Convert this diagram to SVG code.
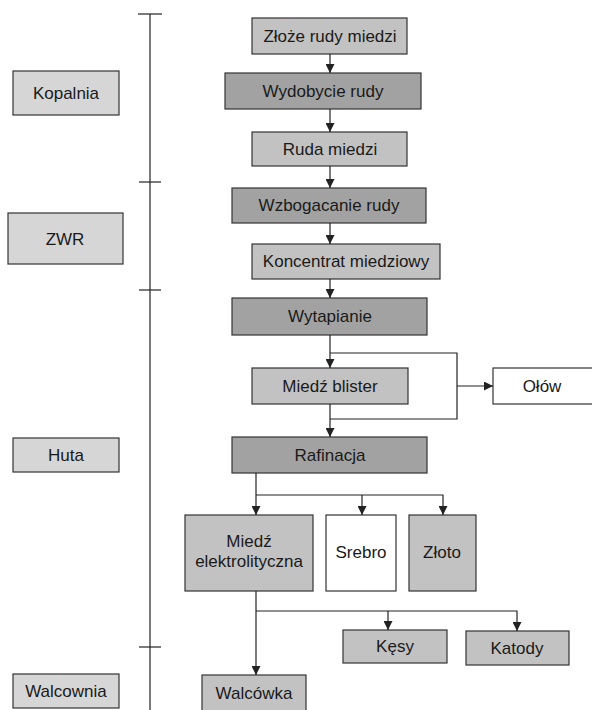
<svg xmlns="http://www.w3.org/2000/svg" width="592" height="710" viewBox="0 0 592 710">
<style>
text{font-family:"Liberation Sans",Arial,sans-serif;font-size:17px;fill:#1a1a1a;text-anchor:middle}
.b{stroke:#333;stroke-width:1.2}
.side{fill:#d6d6d6}
.mid{fill:#c2c2c2}
.dark{fill:#a2a2a2}
.white{fill:#fff}
.c{fill:none;stroke:#222;stroke-width:1.2}
</style>
<defs>
<marker id="ah" viewBox="0 0 10 10" refX="10" refY="5" markerWidth="9" markerHeight="9" markerUnits="userSpaceOnUse" orient="auto"><path d="M0,0 L10,5 L0,10 z" fill="#222"/></marker>
</defs>
<rect width="592" height="710" fill="#fff"/>
<g id="timeline" class="c">
<line x1="150" y1="14" x2="150" y2="710"/>
<line x1="138" y1="14" x2="162" y2="14"/>
<line x1="139" y1="182" x2="161" y2="182"/>
<line x1="139" y1="290" x2="161" y2="290"/>
<line x1="139" y1="647" x2="161" y2="647"/>
</g>
<g id="kopalnia"><rect class="b side" x="13" y="71" width="106" height="44"/><text x="66" y="99">Kopalnia</text></g>
<g id="zwr"><rect class="b side" x="8" y="213" width="115" height="51"/><text x="65" y="245">ZWR</text></g>
<g id="huta"><rect class="b side" x="13" y="438" width="106" height="34"/><text x="66" y="461">Huta</text></g>
<g id="walcownia"><rect class="b side" x="13" y="674" width="106" height="34"/><text x="66" y="697">Walcownia</text></g>
<g id="zloze"><rect class="b mid" x="252" y="18" width="155" height="36"/><text x="330" y="42">Złoże rudy miedzi</text></g>
<g id="wydobycie"><rect class="b dark" x="225" y="73" width="196" height="36"/><text x="323" y="97">Wydobycie rudy</text></g>
<g id="ruda"><rect class="b mid" x="252" y="132" width="155" height="34"/><text x="330" y="155">Ruda miedzi</text></g>
<g id="wzbogacanie"><rect class="b dark" x="232" y="188" width="194" height="35"/><text x="329" y="211">Wzbogacanie rudy</text></g>
<g id="koncentrat"><rect class="b mid" x="252" y="244" width="188" height="35"/><text x="346" y="267">Koncentrat miedziowy</text></g>
<g id="wytapianie"><rect class="b dark" x="232" y="298" width="195" height="37"/><text x="330" y="322">Wytapianie</text></g>
<g id="blister"><rect class="b mid" x="252" y="368" width="156" height="36"/><text x="330" y="392">Miedź blister</text></g>
<g id="olow"><rect class="b white" x="493" y="368" width="102" height="36"/><text x="542" y="392">Ołów</text></g>
<g id="rafinacja"><rect class="b dark" x="232" y="437" width="195" height="36"/><text x="330" y="461">Rafinacja</text></g>
<g id="elektrolityczna"><rect class="b mid" x="185" y="515" width="128" height="76"/><text x="249" y="547">Miedź</text><text x="249" y="567">elektrolityczna</text></g>
<g id="srebro"><rect class="b white" x="326" y="515" width="70" height="76"/><text x="361" y="558">Srebro</text></g>
<g id="zloto"><rect class="b mid" x="409" y="515" width="67" height="76"/><text x="442" y="558">Złoto</text></g>
<g id="kesy"><rect class="b mid" x="343" y="630" width="104" height="33"/><text x="395" y="652">Kęsy</text></g>
<g id="katody"><rect class="b mid" x="466" y="631" width="103" height="34"/><text x="517" y="654">Katody</text></g>
<g id="walcowka"><rect class="b mid" x="202" y="675" width="104" height="40"/><text x="254" y="699">Walcówka</text></g>
<g id="connectors" class="c">
<line x1="330" y1="54" x2="330" y2="73" marker-end="url(#ah)"/>
<line x1="330" y1="109" x2="330" y2="132" marker-end="url(#ah)"/>
<line x1="330" y1="166" x2="330" y2="188" marker-end="url(#ah)"/>
<line x1="330" y1="223" x2="330" y2="244" marker-end="url(#ah)"/>
<line x1="330" y1="279" x2="330" y2="298" marker-end="url(#ah)"/>
<line x1="330" y1="335" x2="330" y2="368" marker-end="url(#ah)"/>
<path d="M330,353 H457 V419 H330"/>
<line x1="457" y1="386" x2="493" y2="386" marker-end="url(#ah)"/>
<line x1="330" y1="404" x2="330" y2="437" marker-end="url(#ah)"/>
<line x1="256" y1="473" x2="256" y2="515" marker-end="url(#ah)"/>
<path d="M256,495 H443 V515" marker-end="url(#ah)"/>
<line x1="362" y1="495" x2="362" y2="515" marker-end="url(#ah)"/>
<line x1="256" y1="591" x2="256" y2="675" marker-end="url(#ah)"/>
<path d="M256,611 H517 V631" marker-end="url(#ah)"/>
<line x1="388" y1="611" x2="388" y2="630" marker-end="url(#ah)"/>
</g>
</svg>
